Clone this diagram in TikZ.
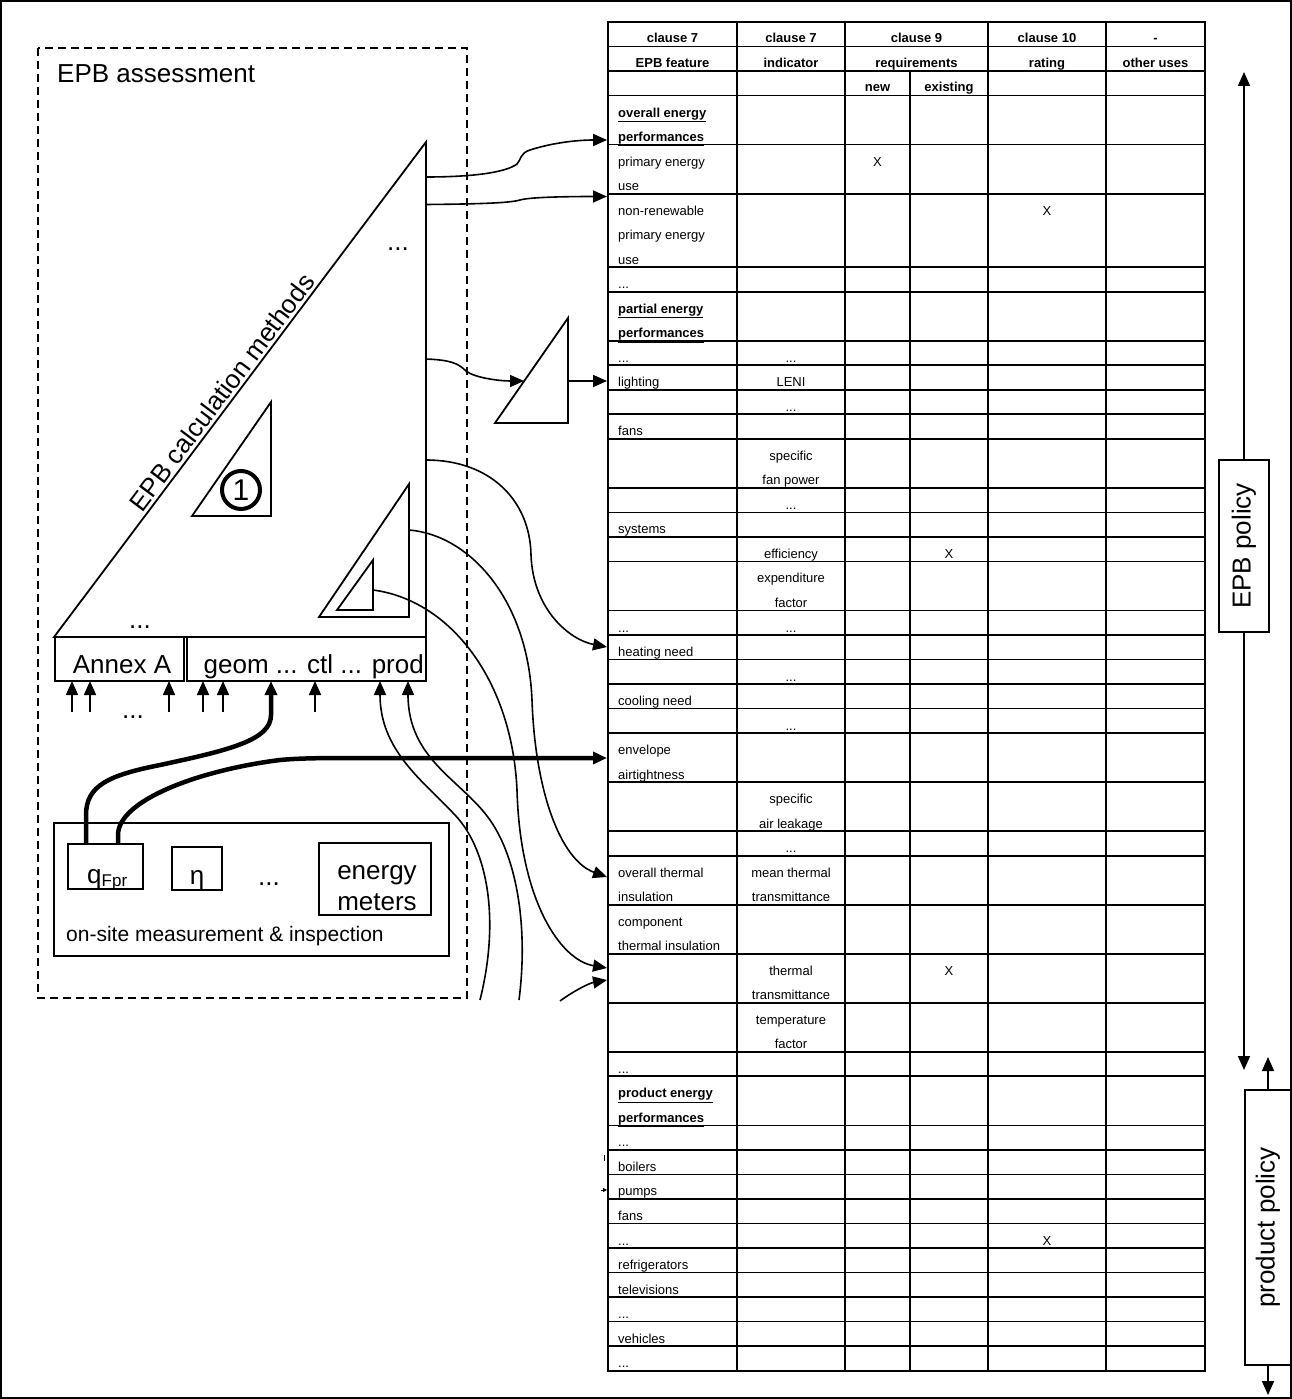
\documentclass[tikz,border=0pt]{standalone}
\usepackage{fontspec}
\setmainfont{Liberation Sans}
\usetikzlibrary{arrows.meta}
\newcommand\grp[1]{\underline{\textbf{#1}}}
\newcommand\ddd{...}
\def\rowh{24.52}

\begin{document}
\begin{tikzpicture}[
  x=1pt, y=-1pt,
  >={Triangle[length=14pt,width=12pt]},
  every node/.style={inner sep=0pt},
  big/.style={font=\fontsize{26}{31}\selectfont},
  cell/.style={font=\fontsize{13}{15}\selectfont, anchor=base},
  feat/.style={font=\fontsize{13}{15}\selectfont, anchor=base west},
  head/.style={font=\fontsize{13}{15}\selectfont\bfseries, anchor=base},
  tabline/.style={line width=1.8pt, line cap=rect},
  boxline/.style={line width=1.8pt},
  dashbox/.style={line width=2pt, dash pattern=on 8pt off 5pt},
  link/.style={line width=1.6pt, ->},
  fatlink/.style={line width=4.5pt, ->},
  policy/.style={draw, line width=1.5pt, rotate=90, big}
]
\useasboundingbox (0,0) rectangle (1292,1399);
\draw[line width=1.5pt] (1,1) rectangle (1291,1398);

% table grid
\foreach \k in {0,1,2,3,5,7,10,11,13,14,15,16,17,19,20,21,22,24,25,26,27,28,29,31,33,34,36,38,40,42,43,45,46,47,48,49,50,51,52,53,54,55}
  \draw[tabline] (608,22+\k*\rowh) -- (1205,22+\k*\rowh);
\foreach \x in {608,737,845,988,1106,1205}
  \draw[tabline] (\x,22) -- (\x,22+55*\rowh);
\draw[tabline] (910,22+2*\rowh) -- (910,22+55*\rowh);

% table head
\foreach \x/\txt [count=\i] in {672.5/clause 7, 791/clause 7, 916.5/clause 9, 1047/clause 10, 1155.5/-}
  \node[head] (hA\i) at (\x,22+\rowh-4) {\txt};
\foreach \x/\txt [count=\i] in {672.5/EPB feature, 791/indicator, 916.5/requirements, 1047/rating, 1155.5/other uses}
  \node[head] (hB\i) at (\x,22+2*\rowh-4) {\txt};
\node[head] (hnew) at (877.5,22+3*\rowh-4) {new};
\node[head] (hexist) at (949,22+3*\rowh-4) {existing};

% EPB features
\foreach \k/\txt [count=\i] in {4/\grp{overall energy}, 5/\grp{performances}, 6/primary energy, 7/use,
    8/non-renewable, 9/primary energy, 10/use, 11/\ddd, 12/\grp{partial energy}, 13/\grp{performances},
    14/\ddd, 15/lighting, 17/fans, 21/systems, 25/\ddd, 26/heating need, 28/cooling need,
    30/envelope, 31/airtightness, 35/overall thermal, 36/insulation, 37/component, 38/thermal insulation,
    43/\ddd, 44/\grp{product energy}, 45/\grp{performances}, 46/\ddd, 47/boilers, 48/pumps, 49/fans,
    50/\ddd, 51/refrigerators, 52/televisions, 53/\ddd, 54/vehicles, 55/\ddd}
  \node[feat] (f\i) at (618,22+\k*\rowh-3) {\txt};

% indicators
\foreach \k/\txt [count=\i] in {14/\ddd, 15/LENI, 16/\ddd, 18/specific, 19/fan power, 20/\ddd,
    22/efficiency, 23/expenditure, 24/factor, 25/\ddd, 27/\ddd, 29/\ddd, 32/specific, 33/air leakage,
    34/\ddd, 35/mean thermal, 36/transmittance, 39/thermal, 40/transmittance, 41/temperature, 42/factor}
  \node[cell] (ind\i) at (791,22+\k*\rowh-3) {\txt};

% marks
\foreach \x/\k [count=\i] in {877.5/6, 1047/8, 949/22, 949/39, 1047/50}
  \node[cell] (mark\i) at (\x,22+\k*\rowh-3) {X};

% policies
\node[policy, minimum width=172pt, minimum height=50pt] (epbpol) at (1244,546) {EPB policy};
\coordinate (epbtop) at (1244,72);
\coordinate (epbbot) at (1244,1070);
\draw[link] (epbpol.east) -- (epbtop);
\draw[link] (epbpol.west) -- (epbbot);
\node[policy, minimum width=275pt, minimum height=46pt] (prodpol) at (1268,1227.5) {product policy};
\coordinate (prodtop) at (1268,1057);
\coordinate (prodbot) at (1268,1395);
\draw[link] (prodpol.east) -- (prodtop);
\draw[link] (prodpol.west) -- (prodbot);

% EPB assessment
\draw[dashbox] (38,48) rectangle (467,998);
\node[big, anchor=base west] (assess) at (57,83) {EPB assessment};

\coordinate (bl) at (54,637);
\coordinate (tp) at (426,142);
\coordinate (br) at (426,637);
\draw[boxline] (bl) -- (tp) -- (br) -- cycle;
\node[big, rotate=53, anchor=south, inner sep=3pt] (calc) at (232,400) {EPB calculation methods};
\node[big, anchor=base] (dots1) at (398,250) {...};
\node[big, anchor=base] (dots2) at (140,628) {...};

\draw[boxline] (192,516) -- (271,402) -- (271,516) -- cycle;
\node[circle, draw, line width=4pt, minimum size=38pt] (one) at (241,490) {\fontsize{30}{30}\selectfont 1};
\draw[boxline] (319,617) -- (409,484) -- (409,617) -- cycle;
\draw[boxline] (337,610) -- (373,560) -- (373,610) -- cycle;
\draw[boxline] (495,423) -- (568,318) -- (568,423) -- cycle;

\draw[boxline] (55,637) rectangle (184,681);
\node[big, anchor=base] (annex) at (122,673) {Annex A};
\draw[boxline] (187,637) rectangle (426,681);
\node[big, anchor=base east] (modules) at (424,673) {geom ... ctl ... prod};

\foreach \x [count=\i] in {72,90,169,203,223,315} {
  \coordinate (src\i) at (\x,712);
  \coordinate (in\i) at (\x,681);
  \draw[link] (src\i) -- (in\i);
}
\node[big, anchor=base] (dots3) at (133,718) {...};

% on-site measurement
\draw[boxline] (54,823) rectangle (449,956);
\draw[boxline] (68,844) rectangle (143,889);
\node[big, anchor=base west] (qfpr) at (87,883) {q\raisebox{-3pt}{\fontsize{17}{17}\selectfont Fpr}};
\draw[boxline] (172,847) rectangle (222,890);
\node[big, anchor=base] (eta) at (197,884) {η};
\node[big, anchor=base] (dots4) at (269,885) {...};
\draw[boxline] (319,843) rectangle (431,915);
\node[big, align=center] (meters) at (377,888) {energy\\meters};
\node[font=\fontsize{21}{25}\selectfont, anchor=base west] (onsite) at (66,941) {on-site measurement \& inspection};

% connectors
\coordinate (oa) at (426,177);  \coordinate (ta) at (607,140);
\coordinate (ob) at (426,204.5);\coordinate (tb) at (607,196.5);
\coordinate (oc) at (426,359);  \coordinate (hyp) at (524,381);
\coordinate (od) at (568,381);  \coordinate (td) at (607,381);
\coordinate (oe) at (426,460);  \coordinate (te) at (607,647);
\coordinate (of) at (409,530);  \coordinate (tf) at (607,877);
\coordinate (og) at (373,590);  \coordinate (tg) at (607,968);
\coordinate (cut5) at (519,1000); \coordinate (prod2) at (408,681);
\coordinate (cut6) at (480,1000); \coordinate (prod1) at (380,681);
\coordinate (cut7) at (560,1001); \coordinate (ti) at (607,980);
\coordinate (qa) at (86,844);   \coordinate (geomin) at (271,681);
\coordinate (qb) at (118,844);  \coordinate (tq) at (607,758);

\draw[link] (oa) .. controls (470,177) and (505,173) .. (517,164) .. controls (521,160) and (520,153) .. (530,150) .. controls (555,142) and (580,140) .. (ta);
\draw[link] (ob) .. controls (480,204) and (510,203) .. (520,200) .. controls (530,197) and (570,196.5) .. (tb);
\draw[link] (oc) .. controls (450,360) and (458,363) .. (466,371) .. controls (475,378) and (500,381) .. (hyp);
\draw[link] (od) -- (td);
\draw[link] (oe) .. controls (490,460) and (530,500) .. (531,555) .. controls (533,610) and (570,640) .. (te);
\draw[link] (of) .. controls (470,535) and (528,600) .. (532,700) .. controls (535,790) and (560,860) .. (tf);
\draw[link] (og) .. controls (450,600) and (512,680) .. (517,790) .. controls (520,900) and (560,960) .. (tg);
\draw[link] (cut5) .. controls (528,930) and (518,860) .. (490,820) .. controls (462,780) and (408,760) .. (prod2);
\draw[link] (cut6) .. controls (500,920) and (488,850) .. (455,815) .. controls (422,780) and (380,750) .. (prod1);
\draw[link] (cut7) .. controls (575,990) and (590,983) .. (ti);
\draw[fatlink] (qa) -- (86,815) .. controls (86,785) and (110,775) .. (160,765) .. controls (230,750) and (271,740) .. (271,715) -- (geomin);
\draw[fatlink] (qb) -- (118,835) .. controls (118,800) and (200,770) .. (280,760) .. controls (300,758) and (330,758) .. (350,758) -- (tq);

% stray marks at the table edge
\coordinate (mk1) at (604,1155); \coordinate (mk2) at (604,1161);
\draw[line width=1pt] (mk1) -- (mk2);
\coordinate (mk3) at (601,1190); \coordinate (mk4) at (607,1190);
\draw[line width=0.8pt, -{Triangle[length=4pt,width=4pt]}] (mk3) -- (mk4);
\end{tikzpicture}
\end{document}
